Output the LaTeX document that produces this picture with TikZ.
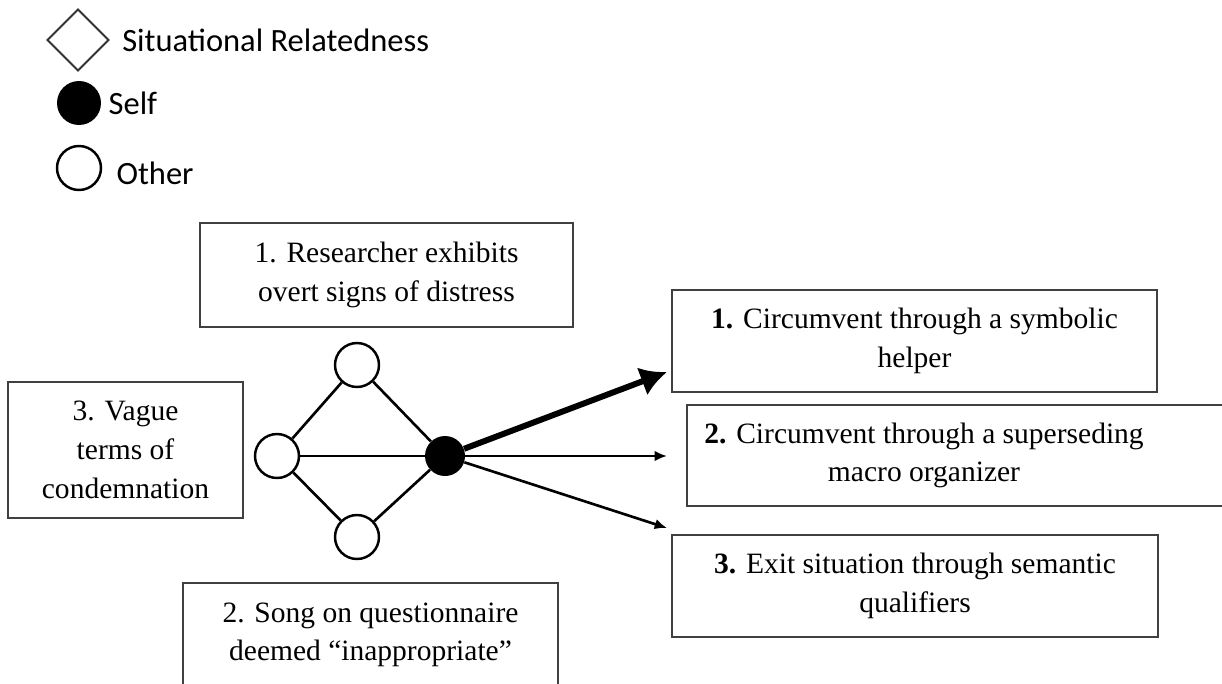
\documentclass[tikz,border=0pt]{standalone}
\usepackage{fontspec}
\setmainfont{Liberation Serif}
\newfontfamily\legendfont{Carlito}
\usetikzlibrary{shapes, shapes.geometric, arrows.meta, positioning, calc}
\tikzstyle{box} = [rectangle, draw=black!75, line width=1.1pt, align=center, font=\fontsize{16.8}{22}\selectfont, inner sep=0pt]
\tikzstyle{other} = [circle, draw, line width=1.4pt, minimum size=0.88cm, inner sep=0pt]
\tikzstyle{self} = [circle, fill=black, minimum size=0.8cm, inner sep=0pt]
\tikzstyle{tie} = [draw, line width=1.5pt]
\tikzstyle{line} = [draw, line width=1.5pt, -{Latex[length=7pt, width=6pt]}]
\tikzstyle{key} = [font=\legendfont\fontsize{18.5}{22}\selectfont, inner sep=0pt]

\begin{document}
\begin{tikzpicture}[x=0.02cm, y=-0.02cm]
            \useasboundingbox (0,0) rectangle (1222,683);

            % Legend
            \node [diamond, draw=black!80, line width=1.1pt, minimum size=1.24cm, inner sep=0pt] (sr) at (78,40) {};
            \node [key, right=0.24cm of sr] {Situational Relatedness};
            \node [self, minimum size=0.88cm] (selfkey) at (79,103) {};
            \node [key, right=0.14cm of selfkey] {Self};
            \node [other] (otherkey) at (79,168) {};
            \node [key, right=0.28cm of otherkey, yshift=-0.1cm] {Other};

            % Nodes
            \node [box, minimum width=7.46cm, minimum height=2.08cm] (distress) at (386.5,275) {1. Researcher exhibits\\overt signs of distress};
            \node [box, minimum width=4.7cm, minimum height=2.72cm] (vague) at (125.5,450) {3. Vague\\terms of\\condemnation};
            \node [box, minimum width=7.5cm, minimum height=2.08cm] (song) at (370.5,635) {2. Song on questionnaire\\deemed “inappropriate”};

            \node [other] (top) at (357,365) {};
            \node [other] (left) at (277,456) {};
            \node [other] (bottom) at (357,537) {};
            \node [self] (me) at (445,456) {};

            \node [box, minimum width=9.7cm, minimum height=2.04cm] (helper) at (914.5,341) {\textbf{1.} Circumvent through a symbolic\\helper};
            \node [box, draw=none] (macro) at (924,455.5) {\textbf{2.} Circumvent through a superseding\\macro organizer};
            \draw [black!75, line width=1.1pt] (687,405) rectangle (1240,506);
            \node [box, minimum width=9.72cm, minimum height=2.04cm] (exit) at (915,586) {\textbf{3.} Exit situation through semantic\\qualifiers};

            \coordinate (tip1) at (667,372);
            \coordinate (tip2) at (667,456);
            \coordinate (tip3) at (667,528);

            % Lines
            \path [tie] (left) -- (top);
            \path [tie] (top) -- (me);
            \path [tie] (left) -- (me);
            \path [tie] (left) -- (bottom);
            \path [tie] (bottom) -- (me);
            \path [draw, line width=3.4pt, -{Latex[length=15pt, width=17pt]}] (me) -- (tip1);
            \path [line] (me) -- (tip2);
            \path [line] (me) -- (tip3);
        \end{tikzpicture}
\end{document}
